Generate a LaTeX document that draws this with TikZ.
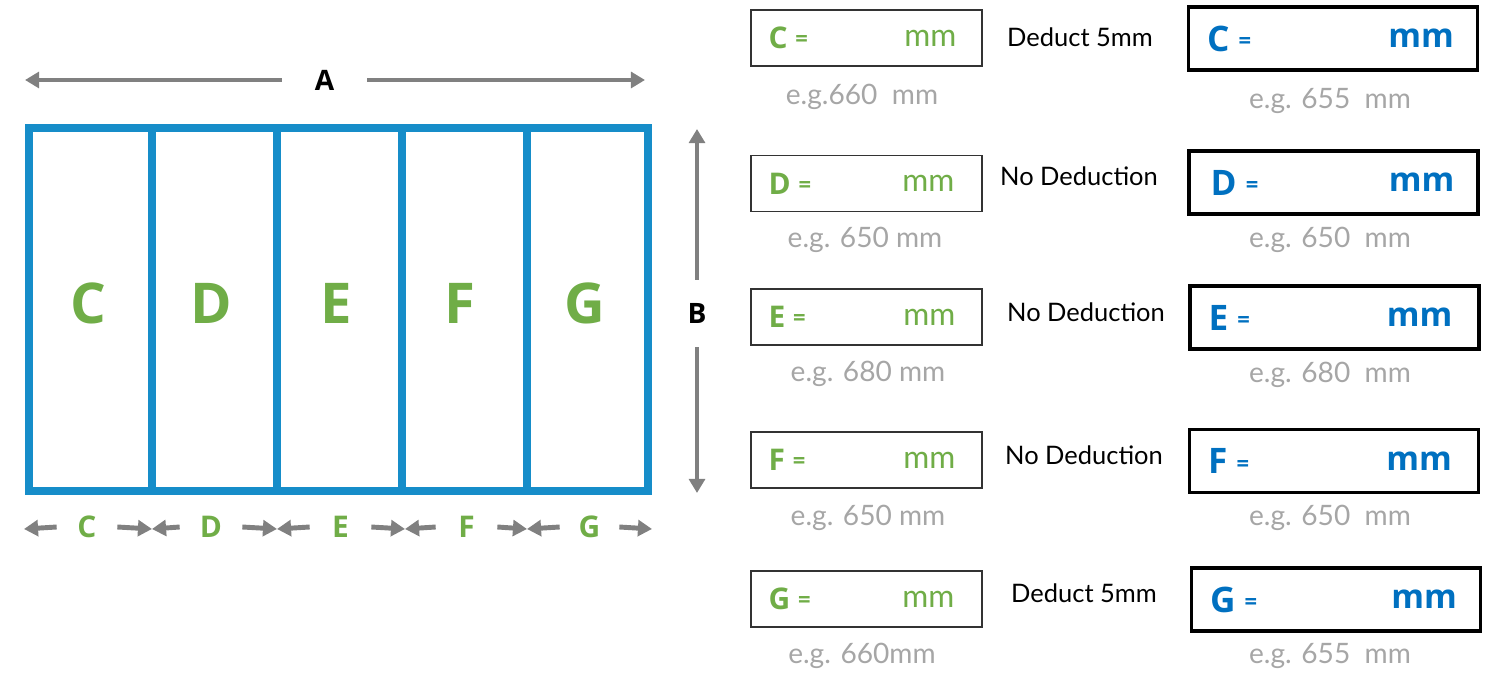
\documentclass[tikz,border=0pt]{standalone}
\usepackage{fontspec}
\setmainfont{Lato}
\newfontfamily\headsans{Open Sans}
\usetikzlibrary{arrows.meta,positioning}
\definecolor{frameblue}{RGB}{22,141,201}
\definecolor{letgreen}{RGB}{112,173,71}
\definecolor{txtblue}{RGB}{0,112,192}
\definecolor{arrgray}{RGB}{128,128,128}
\definecolor{hintgray}{RGB}{166,166,166}
\newcommand{\smeq}{\raisebox{0.07em}{\fontsize{12.5}{12.5}\selectfont =}}

\begin{document}
\begin{tikzpicture}[x=0.02cm,y=-0.02cm,
	panel/.style={draw=frameblue,line width=5.1pt},
	dimarrow/.style={draw=arrgray,line width=2.8pt,-{Triangle[length=8pt,width=9pt]}},
	biglet/.style={inner sep=0pt,text=letgreen,font=\headsans\bfseries\fontsize{32}{32}\selectfont},
	dimlet/.style={inner sep=0pt,text=letgreen,font=\headsans\bfseries\fontsize{17}{17}\selectfont},
	dimname/.style={inner sep=0pt,font=\headsans\bfseries\fontsize{16}{16}\selectfont},
	gbox/.style={draw=black!80,line width=0.8pt,minimum width=4.62cm,minimum height=1.12cm,inner sep=0pt},
	bbox/.style={draw=black,line width=2pt,minimum width=5.78cm,minimum height=1.26cm,inner sep=0pt},
	glet/.style={anchor=west,inner sep=0pt,text=letgreen,font=\headsans\bfseries\fontsize{17}{17}\selectfont},
	gmm/.style={anchor=east,inner sep=0pt,text=letgreen,font=\fontsize{18}{18}\selectfont},
	blet/.style={anchor=west,inner sep=0pt,text=txtblue,font=\headsans\bfseries\fontsize{20}{20}\selectfont},
	bmm/.style={anchor=east,inner sep=0pt,text=txtblue,font=\headsans\bfseries\fontsize{19}{19}\selectfont},
	hint/.style={inner sep=0pt,text=hintgray,font=\fontsize{16}{16}\selectfont},
	note/.style={inner sep=0pt,font=\fontsize{14.5}{14.5}\selectfont}]
	%%%%% START %%%%%
	\useasboundingbox (0,0) rectangle (1487,675);
	
	% panels
	\draw[panel] (29,128) rectangle (648,491);
	\draw[panel] (152,128) -- (152,491);
	\draw[panel] (277,128) -- (277,491);
	\draw[panel] (402,128) -- (402,491);
	\draw[panel] (527,128) -- (527,491);
	
	\node[biglet] (pC) at (88,303) {C};
	\node[biglet] (pD) at (211,303) {D};
	\node[biglet] (pE) at (336,303) {E};
	\node[biglet] (pF) at (460,303) {F};
	\node[biglet] (pG) at (585,303) {G};
	
	% width A
	\node[dimname,minimum width=1.7cm] (A) at (324.5,80) {A};
	\coordinate (Aleft) at (25,80);
	\coordinate (Aright) at (645,80);
	\draw[dimarrow] (A.west) -- (Aleft);
	\draw[dimarrow] (A.east) -- (Aright);
	
	% height B
	\node[dimname,minimum height=1.34cm] (B) at (697,313.5) {B};
	\coordinate (Btop) at (697,129);
	\coordinate (Bbot) at (697,493);
	\draw[dimarrow] (B.north) -- (Btop);
	\draw[dimarrow] (B.south) -- (Bbot);
	
	% panel widths
	\coordinate (d0) at (24,529);
	\coordinate (d1) at (152,529);
	\coordinate (d2) at (277,529);
	\coordinate (d3) at (405,529);
	\coordinate (d4) at (527,529);
	\coordinate (d5) at (652,529);
	\node[dimlet,minimum width=1.2cm] (wC) at (87,527) {C};
	\node[dimlet,minimum width=1.24cm] (wD) at (211,527) {D};
	\node[dimlet,minimum width=1.22cm] (wE) at (340.5,527) {E};
	\node[dimlet,minimum width=1.22cm] (wF) at (466.5,527) {F};
	\node[dimlet,minimum width=1.18cm] (wG) at (589.5,527) {G};
	\draw[dimarrow] (wC.west) -- (d0);
	\draw[dimarrow] (wC.east) -- (d1);
	\draw[dimarrow] (wD.west) -- (d1);
	\draw[dimarrow] (wD.east) -- (d2);
	\draw[dimarrow] (wE.west) -- (d2);
	\draw[dimarrow] (wE.east) -- (d3);
	\draw[dimarrow] (wF.west) -- (d3);
	\draw[dimarrow] (wF.east) -- (d4);
	\draw[dimarrow] (wG.west) -- (d4);
	\draw[dimarrow] (wG.east) -- (d5);
	
	% row C
	\node[gbox] (gboxC) at (866.5,38) {};
	\node[glet] (gletC) at ([xshift=0.36cm]gboxC.west) {C \smeq};
	\node[gmm] (gmmC) at ([xshift=-0.52cm]gboxC.east) {mm};
	\node[hint] (ghintC) at (862,97) {e.g.660\ \ mm};
	\node[note] (noteC) at (1080,37) {Deduct 5mm};
	\node[bbox] (bboxC) at (1333,38.5) {};
	\node[blet] (bletC) at ([xshift=0.4cm]bboxC.west) {C \smeq};
	\node[bmm] (bmmC) at ([xshift=-0.5cm]bboxC.east) {mm};
	\node[hint] (bhintC) at (1330,101) {e.g. 655\ \ mm};
	
	% row D
	\node[gbox] (gboxD) at (866.5,183.5) {};
	\node[glet] (gletD) at ([xshift=0.36cm]gboxD.west) {D \smeq};
	\node[gmm] (gmmD) at ([xshift=-0.56cm]gboxD.east) {mm};
	\node[hint] (ghintD) at (865,240) {e.g. 650 mm};
	\node[note] (noteD) at (1079,176) {No Deduction};
	\node[bbox] (bboxD) at (1333.5,182.5) {};
	\node[blet] (bletD) at ([xshift=0.46cm]bboxD.west) {D \smeq};
	\node[bmm] (bmmD) at ([xshift=-0.5cm]bboxD.east) {mm};
	\node[hint] (bhintD) at (1330,240) {e.g. 650\ \ mm};
	
	% row E
	\node[gbox] (gboxE) at (866.5,317) {};
	\node[glet] (gletE) at ([xshift=0.36cm]gboxE.west) {E \smeq};
	\node[gmm] (gmmE) at ([xshift=-0.54cm]gboxE.east) {mm};
	\node[hint] (ghintE) at (868,374) {e.g. 680 mm};
	\node[note] (noteE) at (1086,312) {No Deduction};
	\node[bbox] (bboxE) at (1334.5,317.5) {};
	\node[blet] (bletE) at ([xshift=0.4cm]bboxE.west) {E \smeq};
	\node[bmm] (bmmE) at ([xshift=-0.56cm]bboxE.east) {mm};
	\node[hint] (bhintE) at (1330,375) {e.g. 680\ \ mm};
	
	% row F
	\node[gbox] (gboxF) at (866.5,460) {};
	\node[glet] (gletF) at ([xshift=0.36cm]gboxF.west) {F \smeq};
	\node[gmm] (gmmF) at ([xshift=-0.54cm]gboxF.east) {mm};
	\node[hint] (ghintF) at (868,518) {e.g. 650 mm};
	\node[note] (noteF) at (1084,455) {No Deduction};
	\node[bbox] (bboxF) at (1334,461) {};
	\node[blet] (bletF) at ([xshift=0.4cm]bboxF.west) {F \smeq};
	\node[bmm] (bmmF) at ([xshift=-0.56cm]bboxF.east) {mm};
	\node[hint] (bhintF) at (1330,518) {e.g. 650\ \ mm};
	
	% row G
	\node[gbox] (gboxG) at (866.5,599) {};
	\node[glet] (gletG) at ([xshift=0.36cm]gboxG.west) {G \smeq};
	\node[gmm] (gmmG) at ([xshift=-0.56cm]gboxG.east) {mm};
	\node[hint] (ghintG) at (862,656) {e.g. 660mm};
	\node[note] (noteG) at (1084,593) {Deduct 5mm};
	\node[bbox] (bboxG) at (1336,599.5) {};
	\node[blet] (bletG) at ([xshift=0.4cm]bboxG.west) {G \smeq};
	\node[bmm] (bmmG) at ([xshift=-0.5cm]bboxG.east) {mm};
	\node[hint] (bhintG) at (1330,656) {e.g. 655\ \ mm};
	%%%%% END %%%%%
\end{tikzpicture}
\end{document}
